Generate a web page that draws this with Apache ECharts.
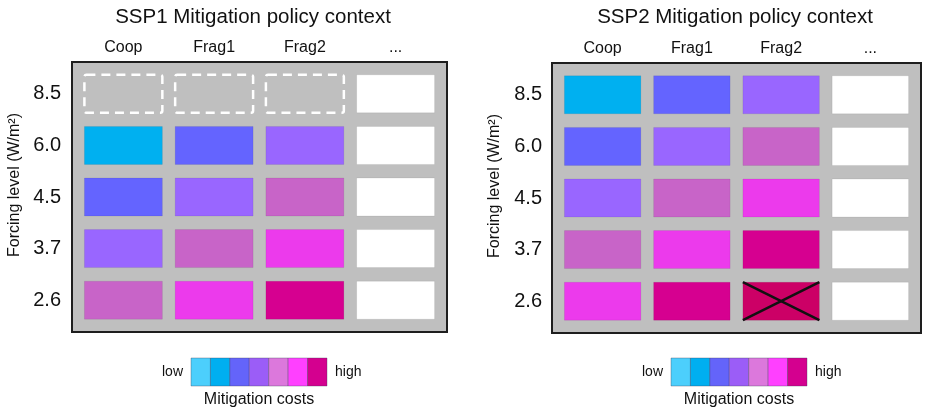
<!DOCTYPE html>
<html>
<head>
<meta charset="utf-8">
<script src="https://cdn.jsdelivr.net/npm/echarts@6/dist/echarts.min.js"></script>
<style>html,body{margin:0;padding:0;background:#fff}#chart{width:927px;height:412px}</style>
</head>
<body>
<div id="chart"></div>
<script>
// ---- data ----
const panelTitles = ['SSP1 Mitigation policy context', 'SSP2 Mitigation policy context'];
const policies = ['Coop', 'Frag1', 'Frag2', '...'];
const forcingLevels = ['8.5', '6.0', '4.5', '3.7', '2.6'];
// cost class 1 (low) .. 6 (high); 'D' = not applicable (dashed), 'W' = not shown (white), 'X' = infeasible
const ssp1Costs = [
  ['D', 'D', 'D', 'W'],
  [1, 2, 3, 'W'],
  [2, 3, 4, 'W'],
  [3, 4, 5, 'W'],
  [4, 5, 6, 'W']
];
const ssp2Costs = [
  [1, 2, 3, 'W'],
  [2, 3, 4, 'W'],
  [3, 4, 5, 'W'],
  [4, 5, 6, 'W'],
  [5, 6, 'X', 'W']
];
const legendClasses = [0, 1, 2, 3, 4, 5, 6];
const legendLow = ['low'];
const legendHigh = ['high'];
const legendName = 'Mitigation costs';
const yName = 'Forcing level (W/m\u00b2)';

// ---- styles ----
const cellColors = {1: '#00b0f0', 2: '#6464ff', 3: '#9966ff', 4: '#c864c8', 5: '#ec3aec', 6: '#d60090', X: '#cc0066', W: '#ffffff'};
const legendColors = ['#4ccffc', '#00aff0', '#6464fa', '#9b5df7', '#dc78dc', '#ff40ff', '#d4008f'];
const FONT = "'Liberation Sans', Arial, sans-serif";

function cellData(costs) {
  const out = [];
  costs.forEach((row, r) => row.forEach((v, c) => out.push([c, r])));
  return out;
}
function cellCodes(costs) {
  const out = [];
  costs.forEach(row => row.forEach(v => out.push(v)));
  return out;
}

function makeCellRenderer(codes) {
  return function (params, api) {
    const code = codes[params.dataIndex];
    const ctr = api.coord([api.value(0), api.value(1)]);
    const size = api.size([1, 1]);
    const w = size[0] - 12.8, h = size[1] - 13.6;
    const x = ctr[0] - w / 2, y = ctr[1] - h / 2;
    if (code === 'D') {
      return {type: 'rect', shape: {x: x, y: y, width: w, height: h, r: 2},
        style: {fill: 'none', stroke: '#ffffff', lineWidth: 2.5, lineDash: [9, 6]}};
    }
    const rect = {type: 'rect', shape: {x: x, y: y, width: w, height: h},
      style: {fill: cellColors[code], stroke: 'rgba(0,0,0,0.07)', lineWidth: 1}};
    if (code === 'X') {
      return {type: 'group', children: [
        rect,
        {type: 'line', shape: {x1: x, y1: y, x2: x + w, y2: y + h}, style: {stroke: '#111', lineWidth: 2.5}},
        {type: 'line', shape: {x1: x, y1: y + h, x2: x + w, y2: y}, style: {stroke: '#111', lineWidth: 2.5}}
      ]};
    }
    return rect;
  };
}

function frameRenderer(params, api) {
  const cs = params.coordSys;
  const p = 6;
  return {type: 'rect', shape: {x: cs.x - p, y: cs.y - p, width: cs.width + 2 * p, height: cs.height + 2 * p},
    style: {fill: '#bfbfbf', stroke: '#1e1e1e', lineWidth: 2}};
}

function legendRenderer(params, api) {
  const ctr = api.coord([api.value(0), api.value(1)]);
  const size = api.size([1, 1]);
  return {type: 'rect', shape: {x: ctr[0] - size[0] / 2, y: ctr[1] - size[1] / 2, width: size[0], height: size[1]},
    style: {fill: legendColors[params.dataIndex], stroke: 'rgba(60,60,90,0.35)', lineWidth: 1}};
}

const hiddenLine = {show: false};
function panelX(gi) {
  return {type: 'category', gridIndex: gi, position: 'top', data: policies,
    axisLine: hiddenLine, axisTick: hiddenLine, splitLine: hiddenLine,
    axisLabel: {fontSize: 16, color: '#111', margin: 12, fontFamily: FONT}};
}
function panelY(gi, margin) {
  return {type: 'category', gridIndex: gi, data: forcingLevels, inverse: true,
    axisLine: hiddenLine, axisTick: hiddenLine, splitLine: hiddenLine,
    axisLabel: {fontSize: 20, color: '#111', margin: margin, fontFamily: FONT},
    name: yName, nameLocation: 'middle', nameGap: 55,
    nameTextStyle: {fontSize: 16, color: '#111', fontFamily: FONT, padding: [0, 0, 0, 24]}};
}
function legendX(gi) {
  return {type: 'category', gridIndex: gi, data: legendClasses,
    axisLine: hiddenLine, axisTick: hiddenLine, axisLabel: hiddenLine, splitLine: hiddenLine,
    name: legendName, nameLocation: 'middle', nameGap: 6,
    nameTextStyle: {fontSize: 16, color: '#111', fontFamily: FONT}};
}
function legendY(gi, data, pos) {
  return {type: 'category', gridIndex: gi, data: data, position: pos,
    axisLine: hiddenLine, axisTick: hiddenLine, splitLine: hiddenLine,
    axisLabel: {fontSize: 14, color: '#111', margin: 8, fontFamily: FONT}};
}

const option = {
  animation: false,
  textStyle: {fontFamily: FONT},
  title: [
    {text: panelTitles[0], left: 253, top: 7, textAlign: 'center', padding: 0,
      textStyle: {fontSize: 20.5, fontWeight: 'normal', color: '#111', fontFamily: FONT}},
    {text: panelTitles[1], left: 735, top: 7, textAlign: 'center', padding: 0,
      textStyle: {fontSize: 20.5, fontWeight: 'normal', color: '#111', fontFamily: FONT}}
  ],
  grid: [
    {left: 78, top: 68, width: 363, height: 258},
    {left: 558, top: 69, width: 357, height: 258},
    {left: 191, top: 358, width: 136, height: 28},
    {left: 671, top: 358, width: 136, height: 28}
  ],
  xAxis: [panelX(0), panelX(1), legendX(2), legendX(3)],
  yAxis: [panelY(0, 17), panelY(1, 16),
    legendY(2, legendLow, 'left'), legendY(2, legendHigh, 'right'),
    legendY(3, legendLow, 'left'), legendY(3, legendHigh, 'right')],
  series: [
    {type: 'custom', name: 'frame1', xAxisIndex: 0, yAxisIndex: 0, data: [[0, 0]], renderItem: frameRenderer, clip: false, z: 1, silent: true},
    {type: 'custom', name: 'frame2', xAxisIndex: 1, yAxisIndex: 1, data: [[0, 0]], renderItem: frameRenderer, clip: false, z: 1, silent: true},
    {type: 'custom', name: 'SSP1', xAxisIndex: 0, yAxisIndex: 0, data: cellData(ssp1Costs), renderItem: makeCellRenderer(cellCodes(ssp1Costs)), z: 2},
    {type: 'custom', name: 'SSP2', xAxisIndex: 1, yAxisIndex: 1, data: cellData(ssp2Costs), renderItem: makeCellRenderer(cellCodes(ssp2Costs)), z: 2},
    {type: 'custom', name: 'legend1', xAxisIndex: 2, yAxisIndex: 2, data: legendClasses.map((c, i) => [i, 0]), renderItem: legendRenderer, z: 2},
    {type: 'custom', name: 'legend2', xAxisIndex: 3, yAxisIndex: 4, data: legendClasses.map((c, i) => [i, 0]), renderItem: legendRenderer, z: 2}
  ]
};

const chart = echarts.init(document.getElementById('chart'), null, {renderer: 'canvas'});
chart.setOption(option);
</script>
</body>
</html>
